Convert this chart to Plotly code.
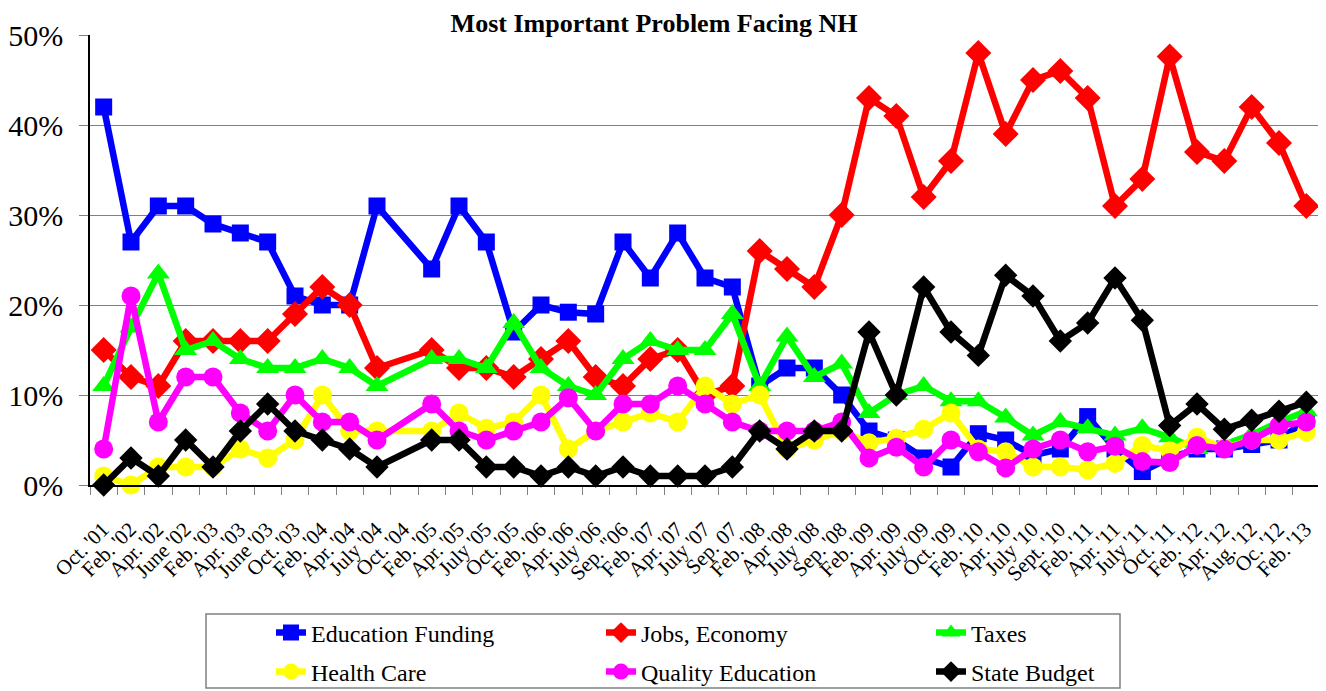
import plotly.graph_objects as go

categories = ["Oct. '01", "Feb. '02", "Apr. '02", "June '02", "Feb. '03", "Apr. '03", "June '03",
              "Oct. '03", "Feb. '04", "Apr. '04", "July '04", "Oct. '04", "Feb. '05", "Apr. '05",
              "July '05", "Oct. '05", "Feb. '06", "Apr. '06", "July '06", "Sep. \"06", "Feb. '07",
              "Apr. '07", "July '07", "Sep. 07", "Feb. '08", "Apr '08", "July '08", "Sep. '08",
              "Feb. '09", "Apr. '09", "July '09", "Oct. '09", "Feb. '10", "Apr. '10", "July '10",
              "Sept. '10", "Feb. '11", "Apr. '11", "July '11", "Oct. '11", "Feb. '12", "Apr. '12",
              "Aug. '12", "Oc. '12", "Feb. '13"]

education_funding = [42, 27, 31, 31, 29, 28, 27, 21, 20, 20, 31, None, 24, 31, 27, 17, 20, 19.2, 19, 27,
                     23, 28, 23, 22, 11, 13, 13, 10, 6, 5, 3, 2, 5.7, 5, 3.3, 4, 7.6, 4, 1.5, 3,
                     4, 4, 4.5, 5, 7.2]
jobs_economy = [15, 12, 11, 16, 16, 16, 16, 19, 22, 20, 13, None, 15, 13, 13, 12, 14, 16, 12, 11,
                14, 15, 10, 11, 26, 24, 22, 30, 43, 41, 32, 36, 48, 39, 45, 46, 43, 31, 34, 47.6,
                37, 36, 42, 38, 31]
taxes = [11, 17.5, 23.5, 15, 16, 14, 13, 13, 14, 13, 11, None, 14, 14, 13, 18, 13, 11, 10, 14,
         16, 15, 15, 19, 11, 16.5, 12, 13.5, 8, 10, 11, 9.3, 9.3, 7.5, 5.5, 7, 6.3, 5.5, 6.3, 5.3,
         4, 4.5, 5.6, 7, 8.2]
health_care = [1, 0, 2, 2, 2, 4, 3, 5, 10, 6, 6, None, 6, 8, 6.3, 7, 10, 4, 6, 7,
               8, 7, 11, 9, 10, 4, 5, 6, 4.7, 5.2, 6.2, 8, 4, 3.7, 2, 2, 1.7, 2.4, 4.4, 3.8,
               5.3, 4.1, 5, 5, 5.9]
quality_education = [4, 21, 7, 12, 12, 8, 6, 10, 7, 7, 5, None, 9, 6, 5, 6, 7, 9.7, 6, 9,
                     9, 11, 9, 7, 6, 6, 6, 7, 3, 4.2, 2, 5, 3.7, 1.9, 4, 5, 3.7, 4.3, 2.6, 2.5,
                     4.4, 4, 5, 6.6, 7]
state_budget = [0, 3, 1, 5, 2, 6, 9, 6, 5, 4, 2, None, 5, 5, 2, 2, 1, 2, 1, 2,
                1, 1, 1, 2, 6, 4, 6, 6, 17, 10, 22, 17, 14.4, 23.3, 21, 16, 18, 23, 18.3, 6.6,
                9, 6.2, 7.2, 8.2, 9.2]

FONT = "Liberation Serif, Times New Roman, serif"

series = [
    ("Education Funding", education_funding, "#0000ff", "square", 17, "legend"),
    ("Jobs, Economy", jobs_economy, "#ff0000", "diamond", 20, "legend"),
    ("Taxes", taxes, "#00ff00", "triangle-up", 20, "legend"),
    ("Health Care", health_care, "#ffff00", "circle", 19, "legend2"),
    ("Quality Education", quality_education, "#ff00ff", "circle", 19, "legend2"),
    ("State Budget", state_budget, "#000000", "diamond", 18, "legend2"),
]

fig = go.Figure()
for name, vals, color, sym, size, leg in series:
    fig.add_trace(go.Scatter(
        x=categories, y=vals, name=name, mode="lines+markers",
        line=dict(color=color, width=6.5),
        marker=dict(symbol=sym, size=size, color=color, line=dict(width=0)),
        connectgaps=True, cliponaxis=False, legend=leg,
    ))

# page has an 8px body margin; figure coordinates = page coordinates - 8
OFF = 8
W, H = 1326 - OFF, 691 - OFF
L, T = 90 - OFF, 35 - OFF
plot_right, plot_bottom = 1320 - OFF, 485 - OFF
R, B = W - plot_right, H - plot_bottom
pw, ph = plot_right - L, plot_bottom - T

def px_x(page_px):
    return (page_px - OFF - L) / pw

def px_y(page_py):
    return (plot_bottom - (page_py - OFF)) / ph

legend_common = dict(orientation="h", xanchor="left", yanchor="middle",
                     entrywidth=285, entrywidthmode="pixels",
                     font=dict(size=24, family=FONT),
                     bgcolor="rgba(0,0,0,0)", traceorder="normal")

fig.update_layout(
    width=W, height=H,
    margin=dict(l=L, r=R, t=T, b=B, autoexpand=False),
    paper_bgcolor="white", plot_bgcolor="white",
    font=dict(family=FONT, color="black"),
    title=dict(text="<b>Most Important Problem Facing NH</b>", font=dict(size=26, family=FONT),
               x=(654 - OFF) / W, xref="container", xanchor="center",
               y=1 - 6 / H, yref="container", yanchor="top"),
    showlegend=True,
    legend=dict(x=px_x(271), y=px_y(633), **legend_common),
    legend2=dict(x=px_x(271), y=px_y(672), **legend_common),
    xaxis=dict(type="category", range=[-0.5, len(categories) - 0.5],
               tickangle=-45, tickfont=dict(size=21, family=FONT),
               ticks="outside", ticklen=8, tickcolor="#808080", tickwidth=1,
               tickson="boundaries", showgrid=False, automargin=False,
               ticklabelstandoff=22, ticklabelshift=-1,
               showline=True, linecolor="black", linewidth=1.5, zeroline=False),
    yaxis=dict(range=[0, 50], dtick=10, ticksuffix="%", tickfont=dict(size=30, family=FONT),
               ticks="outside", ticklen=9, tickcolor="#808080", tickwidth=1.3,
               showgrid=True, gridcolor="#808080", gridwidth=1.3, automargin=False,
               showline=True, linecolor="black", linewidth=1.5, zeroline=False,
               ticklabelstandoff=10),
    shapes=[dict(type="rect", xref="paper", yref="paper",
                 x0=px_x(206), x1=px_x(1120), y0=px_y(688), y1=px_y(614),
                 line=dict(color="#808080", width=1.5), fillcolor="rgba(0,0,0,0)")],
)

fig.write_html("out.html")
